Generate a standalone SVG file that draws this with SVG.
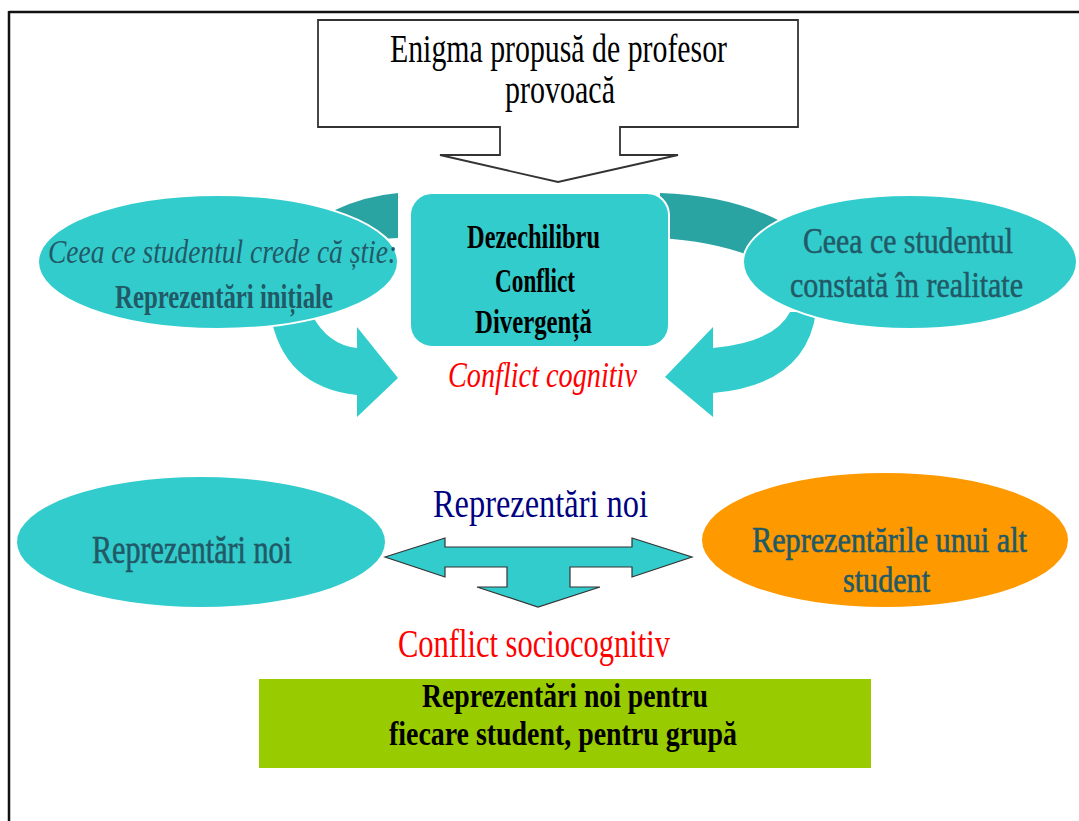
<svg xmlns="http://www.w3.org/2000/svg" width="1079" height="821" viewBox="0 0 1079 821">
<style>
text{font-family:"Liberation Serif","Times New Roman",serif;}
.slate{fill:#215967;}
.cyan{fill:#33CCCC;}
.dark{fill:#2AA3A3;}
.b{font-weight:bold;}
.red{fill:#FF0000;}
</style>
<rect x="0" y="0" width="1079" height="821" fill="#FFFFFF"/>
<g id="frame">
<line x1="9" y1="12" x2="1079" y2="12" stroke="#111" stroke-width="2.5"/>
<line x1="9" y1="11" x2="9" y2="821" stroke="#111" stroke-width="2.5"/>
</g>
<g id="connectors">
<path class="dark" d="M 335 210 Q 365 196 398 193 L 398 238 Q 370 238 345 248 Z"/>
<path class="dark" d="M 660 193 Q 730 195 782 222 L 748 255 Q 710 241 660 238 Z"/>
<path class="cyan" d="M 270 312 Q 282 387 357 395 L 357 417 L 398 378 L 357 327 L 357 348 Q 328 345 312 315 Z"/>
<path class="cyan" d="M 816 312 Q 806 385 713 393 L 713 417 L 665 377 L 713 327 L 713 348 Q 775 342 790 312 Z"/>
<polygon class="cyan" stroke="#333" stroke-width="1.2" stroke-linejoin="miter" points="385,557 445,538 445,547 632,547 632,538 692,557 632,577 632,567 570,567 570,587 600,587 538,607 477,587 507,587 507,567 445,567 445,577"/>
</g>
<g id="enigma">
<path d="M 318 20 H 798 V 127 H 620 V 155 H 678 L 558 182 L 440 155 H 500 V 127 H 318 Z" fill="#FFFFFF" stroke="#333" stroke-width="1.8"/>
<text x="390" y="62" font-size="40" textLength="337" lengthAdjust="spacingAndGlyphs" fill="#000">Enigma propusă de profesor</text>
<text x="505" y="103" font-size="40" textLength="110" lengthAdjust="spacingAndGlyphs" fill="#000">provoacă</text>
</g>
<g id="dezechilibru">
<rect x="410" y="193" width="259" height="154" rx="22" class="cyan" stroke="#FFFFFF" stroke-width="2"/>
<text class="b" x="467" y="248" font-size="33" textLength="133" lengthAdjust="spacingAndGlyphs" fill="#000">Dezechilibru</text>
<text class="b" x="495" y="292" font-size="33" textLength="80" lengthAdjust="spacingAndGlyphs" fill="#000">Conflict</text>
<text class="b" x="475" y="333" font-size="33" textLength="117" lengthAdjust="spacingAndGlyphs" fill="#000">Divergență</text>
</g>
<g id="conflict-cognitiv">
<text class="red" x="448" y="387" font-size="35" font-style="italic" textLength="189" lengthAdjust="spacingAndGlyphs">Conflict cognitiv</text>
</g>
<g id="reprezentari-initiale">
<ellipse cx="218" cy="262" rx="180" ry="67" class="cyan" stroke="#FFFFFF" stroke-width="2"/>
<text class="slate" x="48" y="263" font-size="34" font-style="italic" textLength="349" lengthAdjust="spacingAndGlyphs">Ceea ce studentul crede că știe:</text>
<text class="slate b" x="115" y="308" font-size="33" textLength="218" lengthAdjust="spacingAndGlyphs">Reprezentări inițiale</text>
</g>
<g id="realitate">
<ellipse cx="910" cy="262" rx="167" ry="67" class="cyan" stroke="#FFFFFF" stroke-width="2"/>
<text class="slate" x="803" y="253" font-size="36" textLength="210" lengthAdjust="spacingAndGlyphs" stroke="#215967" stroke-width="0.5">Ceea ce studentul</text>
<text class="slate" x="790" y="297" font-size="36" textLength="233" lengthAdjust="spacingAndGlyphs" stroke="#215967" stroke-width="0.5">constată în realitate</text>
</g>
<g id="label-reprezentari-noi">
<text x="433" y="517" font-size="39" textLength="215" lengthAdjust="spacingAndGlyphs" fill="#000080">Reprezentări noi</text>
</g>
<g id="reprezentari-noi">
<ellipse cx="201" cy="542" rx="184" ry="65" class="cyan"/>
<text class="slate" x="92" y="563" font-size="39" textLength="200" lengthAdjust="spacingAndGlyphs" stroke="#215967" stroke-width="0.6">Reprezentări noi</text>
</g>
<g id="alt-student">
<ellipse cx="885" cy="540" rx="183" ry="67" fill="#FF9900"/>
<text class="slate" x="752" y="552" font-size="36" textLength="275" lengthAdjust="spacingAndGlyphs" stroke="#215967" stroke-width="0.6">Reprezentările unui alt</text>
<text class="slate" x="843" y="592" font-size="36" textLength="87" lengthAdjust="spacingAndGlyphs" stroke="#215967" stroke-width="0.6">student</text>
</g>
<g id="conflict-sociocognitiv">
<text class="red" x="398" y="657" font-size="39" textLength="272" lengthAdjust="spacingAndGlyphs">Conflict sociocognitiv</text>
</g>
<g id="rezultat">
<rect x="259" y="679" width="612" height="89" fill="#99CC00"/>
<text class="b" x="422" y="707" font-size="34" textLength="286" lengthAdjust="spacingAndGlyphs" fill="#000">Reprezentări noi pentru</text>
<text class="b" x="389" y="745" font-size="34" textLength="348" lengthAdjust="spacingAndGlyphs" fill="#000">fiecare student, pentru grupă</text>
</g>
</svg>
